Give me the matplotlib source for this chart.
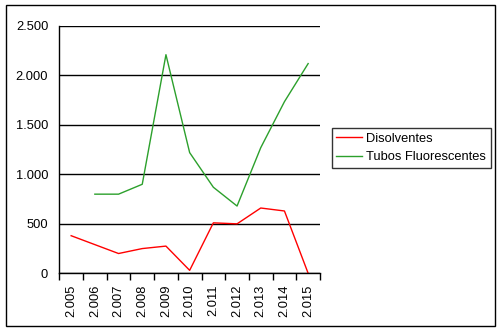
import numpy as np
import matplotlib.pyplot as plt
from matplotlib.patches import Rectangle

years = ['2.005', '2.006', '2.007', '2.008', '2.009', '2.010',
         '2.011', '2.012', '2.013', '2.014', '2.015']
disolventes = [380, 290, 200, 250, 275, 30, 510, 500, 660, 630, 0]
tubos = [np.nan, 800, 800, 900, 2210, 1220, 870, 680, 1270, 1735, 2120]
yticks = [0, 500, 1000, 1500, 2000, 2500]

plt.rcParams['font.family'] = ['Liberation Sans', 'DejaVu Sans']
fs = 9.3

fig = plt.figure(figsize=(5.0, 3.32), dpi=100)
ax = fig.add_axes([0.1186, 0.1768, 0.5214, 0.7449])

x = np.arange(len(years))
ax.plot(x, disolventes, color='#ff0000', lw=1, label='Disolventes')
ax.plot(x, tubos, color='#2ca02c', lw=1, label='Tubos Fluorescentes')

ax.set_xlim(-0.5, len(years) - 0.5)
ax.set_ylim(0, 2500)
ax.set_yticks(yticks)
ax.set_yticklabels([f'{v:,}'.replace(',', '.') for v in yticks], fontsize=fs)
ax.yaxis.grid(True, color='black', lw=1)
ax.set_axisbelow(True)
ax.tick_params(axis='y', length=0, pad=8)

ax.set_xticks(x)
ax.set_xticklabels(years, rotation=90, fontsize=fs)
ax.tick_params(axis='x', length=0, pad=8)
ax.set_xticks(np.arange(len(years) + 1) - 0.5, minor=True)
ax.tick_params(axis='x', which='minor', length=5, direction='out', width=1)

for s in ['top', 'right']:
    ax.spines[s].set_visible(False)
for s in ['left', 'bottom']:
    ax.spines[s].set_linewidth(1)

leg = fig.legend(loc='upper left', bbox_to_anchor=(0.663, 0.614), frameon=True,
                 fancybox=False, edgecolor='black', fontsize=fs, handlelength=2.0,
                 handletextpad=0.35, borderpad=0.35, labelspacing=0.5, borderaxespad=0)
leg.get_frame().set_linewidth(1)

fig.patches.append(Rectangle((0.011, 0.018), 0.978, 0.966, transform=fig.transFigure,
                             fill=False, edgecolor='black', lw=1))

fig.savefig('out.png', dpi=100)
